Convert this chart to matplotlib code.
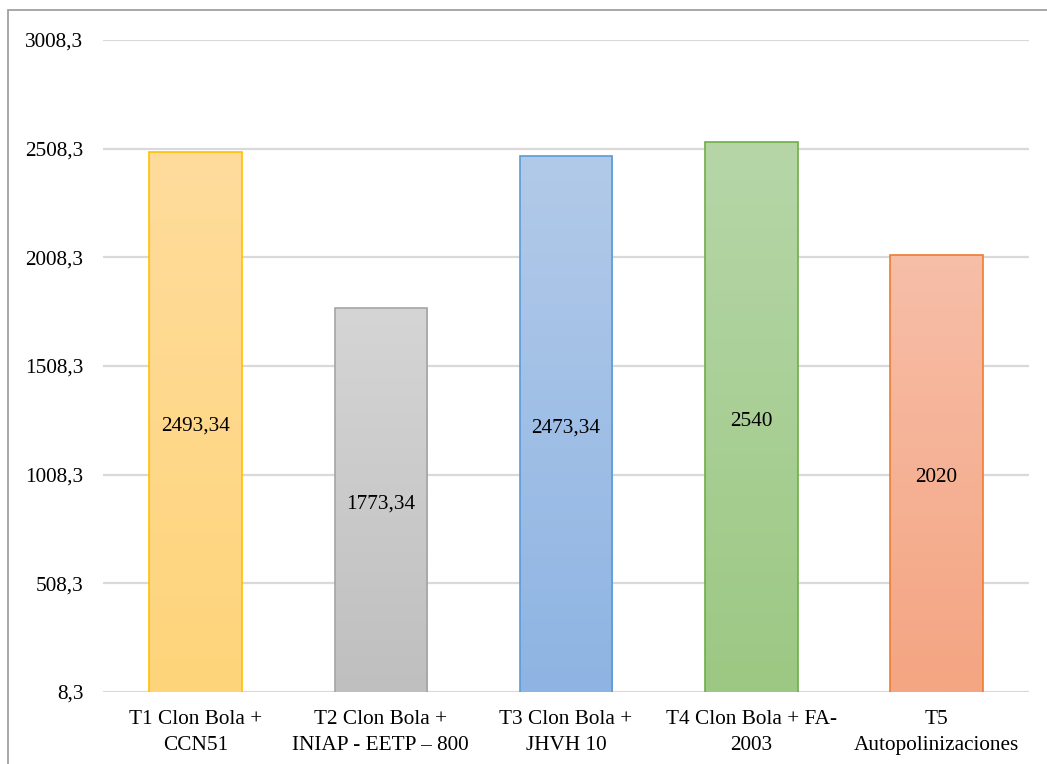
import matplotlib
matplotlib.use("Agg")
import matplotlib.pyplot as plt
import numpy as np
from matplotlib.colors import LinearSegmentedColormap
from matplotlib.patches import Rectangle

plt.rcParams['font.family'] = ['Liberation Serif', 'DejaVu Serif']

categories = [
    "T1 Clon Bola +\nCCN51",
    "T2 Clon Bola +\nINIAP - EETP – 800",
    "T3 Clon Bola +\nJHVH 10",
    "T4 Clon Bola + FA-\n2003",
    "T5\nAutopolinizaciones",
]
values = [2493.34, 1773.34, 2473.34, 2540, 2020]
value_labels = ["2493,34", "1773,34", "2473,34", "2540", "2020"]
yticks = [8.3, 508.3, 1008.3, 1508.3, 2008.3, 2508.3, 3008.3]
ytick_labels = ["8,3", "508,3", "1008,3", "1508,3", "2008,3", "2508,3", "3008,3"]

edge_colors = ["#FFC000", "#A5A5A5", "#5B9BD5", "#70AD47", "#ED7D31"]
top_colors = ["#FEDC9C", "#D5D5D5", "#B2CAE9", "#B6D6A8", "#F7BEA8"]
bottom_colors = ["#FFD47A", "#BFBFBF", "#8EB4E3", "#9CC883", "#F4A582"]

FS = 15.3

fig = plt.figure(figsize=(10.47, 7.64), dpi=100)
ax = fig.add_axes([103 / 1047, 72 / 764, 926 / 1047, 652 / 764])

ymin, ymax = yticks[0], yticks[-1]
ax.set_xlim(-0.5, len(categories) - 0.5)
ax.set_ylim(ymin, ymax)

for y in yticks:
    ax.axhline(y, color="#D9D9D9", lw=1.6, zorder=0)

bars = ax.bar(range(len(values)), values, width=0.5, bottom=0,
              facecolor="none", edgecolor=edge_colors, linewidth=1.2, zorder=3)

grad = np.linspace(0, 1, 256).reshape(-1, 1)
for i, (bar, v) in enumerate(zip(bars, values)):
    cmap = LinearSegmentedColormap.from_list(f"g{i}", [bottom_colors[i], top_colors[i]])
    x0 = bar.get_x()
    x1 = x0 + bar.get_width()
    im = ax.imshow(grad, extent=[x0, x1, ymin, v], origin="lower", cmap=cmap,
                   aspect="auto", zorder=2, interpolation="bilinear")
    clip = Rectangle((x0, ymin), bar.get_width(), v - ymin, transform=ax.transData)
    im.set_clip_path(clip)
    ax.annotate(value_labels[i], (i, (ymin + v) / 2), xytext=(0, -3),
                textcoords="offset points", ha="center", va="center",
                fontsize=FS, color="black", zorder=4)

ax.set_xlim(-0.5, len(categories) - 0.5)
ax.set_ylim(ymin, ymax)
ax.set_yticks(yticks)
ax.set_yticklabels(ytick_labels, fontsize=FS)
ax.set_xticks(range(len(categories)))
ax.set_xticklabels(categories, fontsize=FS, linespacing=1.5)
ax.tick_params(axis="y", length=0, pad=14)
ax.tick_params(axis="x", length=0, pad=13)
for s in ax.spines.values():
    s.set_visible(False)

# outer chart border
fig.patches.append(Rectangle((8 / 1047, -0.05), 1.2, (764 - 10) / 764 + 0.05,
                             transform=fig.transFigure, fill=False,
                             edgecolor="#A0A0A0", linewidth=1.3))

fig.savefig("out.png", dpi=100)
